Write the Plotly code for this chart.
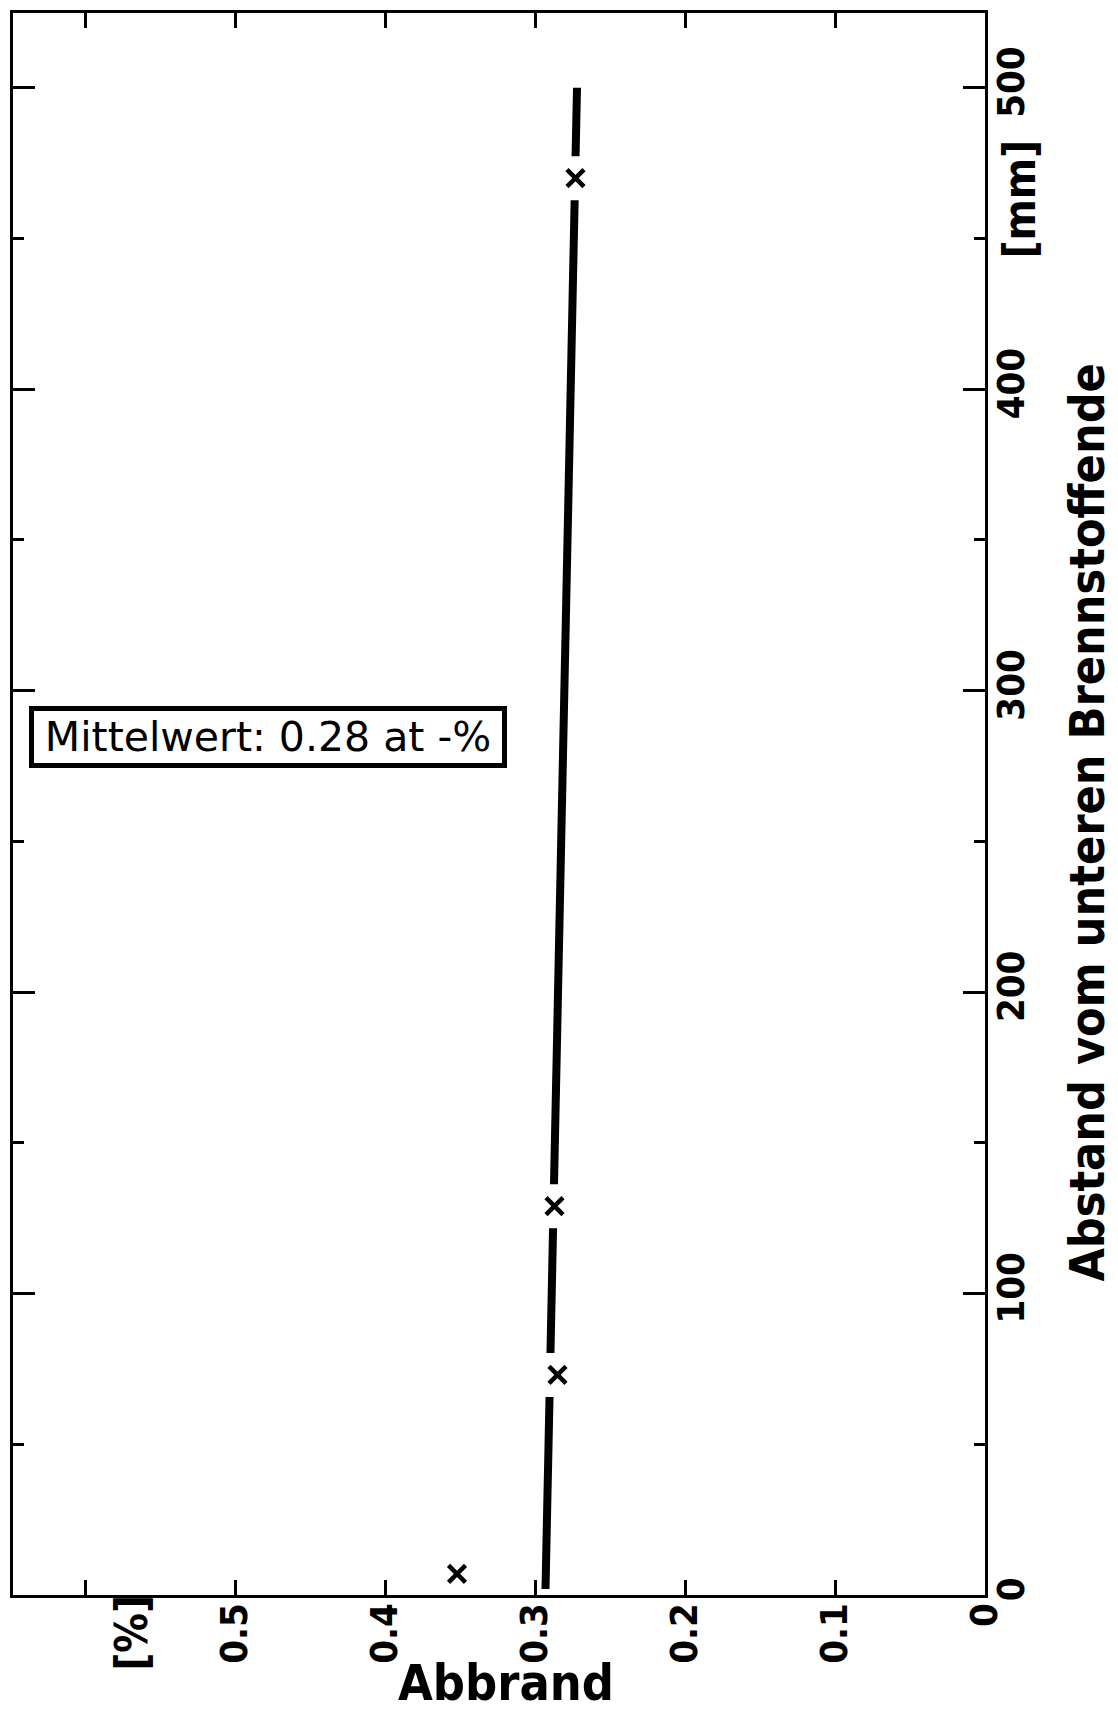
import plotly.graph_objects as go

# Abbrand measured along the fuel column
dist_mm = [7, 73, 129, 470]
abbrand_pct = [0.352, 0.285, 0.287, 0.273]

# straight-line fit through the profile
fit_dist_mm = [2, 500]
fit_abbrand_pct = [0.293, 0.272]

x_ticks = [0.0, 0.1, 0.2, 0.3, 0.4, 0.5, 0.6]
x_ticktext = ["0", "0.1", "0.2", "0.3", "0.4", "0.5", ""]
y_ticks = [0, 100, 200, 300, 400, 500]
y_ticktext = ["0", "100", "200", "300", "400", "500"]

NARROW = "DejaVu Sans Condensed, Liberation Sans Narrow, Liberation Sans, sans-serif"
WIDE = "DejaVu Sans, Liberation Sans, sans-serif"

fig = go.Figure()

fig.add_trace(go.Scatter(
    x=fit_abbrand_pct, y=fit_dist_mm, mode="lines",
    line=dict(color="black", width=8), hoverinfo="skip", showlegend=False,
))
# white pads open the fit line around each measured point
fig.add_trace(go.Scatter(
    x=abbrand_pct, y=dist_mm, mode="markers",
    marker=dict(symbol="square", size=44, color="white", line=dict(width=0)),
    hoverinfo="skip", showlegend=False,
))
fig.add_trace(go.Scatter(
    x=abbrand_pct, y=dist_mm, mode="markers",
    marker=dict(symbol="x-thin", size=17, color="black",
                line=dict(color="black", width=4.5)),
    showlegend=False,
))

fig.update_layout(
    width=1118, height=1713,
    margin=dict(l=12, r=133, t=10, b=118),
    paper_bgcolor="white", plot_bgcolor="white",
    xaxis=dict(
        range=[0.648, 0], tickvals=x_ticks, ticktext=x_ticktext,
        ticks="inside", ticklen=15, tickwidth=3, tickcolor="black",
        tickangle=-90, ticklabelstandoff=-10,
        tickfont=dict(family=NARROW, size=38, color="black", weight="bold"),
        showline=True, linewidth=3, linecolor="black", mirror="ticks",
        showgrid=False, zeroline=False,
    ),
    yaxis=dict(
        side="right", range=[0, 524.8], tickvals=y_ticks, ticktext=y_ticktext,
        ticks="inside", ticklen=22, tickwidth=3, tickcolor="black",
        tickangle=-90, ticklabelstandoff=-10,
        tickfont=dict(family=NARROW, size=38, color="black", weight="bold"),
        minor=dict(tick0=0, dtick=50, ticks="inside", ticklen=11,
                   tickwidth=3, tickcolor="black"),
        showline=True, linewidth=3, linecolor="black", mirror="ticks",
        showgrid=False, zeroline=False,
    ),
)

fig.add_annotation(
    xref="paper", yref="paper", x=0.0164, y=0.5426,
    xanchor="left", yanchor="middle",
    text="Mittelwert: 0.28 at -%", showarrow=False,
    font=dict(family=WIDE, size=41, color="black"),
    bordercolor="black", borderwidth=5, borderpad=3, bgcolor="white",
    width=462, height=46, align="center",
)
fig.add_annotation(
    xref="paper", yref="paper", x=0.1223, y=-0.024,
    xanchor="center", yanchor="middle", textangle=-90,
    text="[%]", showarrow=False,
    font=dict(family=NARROW, size=44, color="black", weight="bold"),
)
fig.add_annotation(
    xref="paper", yref="paper", x=0.5067, y=-0.0555,
    xanchor="center", yanchor="middle",
    text="Abbrand", showarrow=False,
    font=dict(family=NARROW, size=50, color="black", weight="bold"),
)
fig.add_annotation(
    xref="paper", yref="paper", x=1.104, y=0.4883,
    xanchor="center", yanchor="middle", textangle=-90,
    text="Abstand vom unteren Brennstoffende", showarrow=False,
    font=dict(family=NARROW, size=48, color="black", weight="bold"),
)
fig.add_annotation(
    xref="paper", yref="paper", x=1.036, y=0.8827,
    xanchor="center", yanchor="middle", textangle=-90,
    text="[mm]", showarrow=False,
    font=dict(family=NARROW, size=44, color="black", weight="bold"),
)

fig.write_html("out.html")
